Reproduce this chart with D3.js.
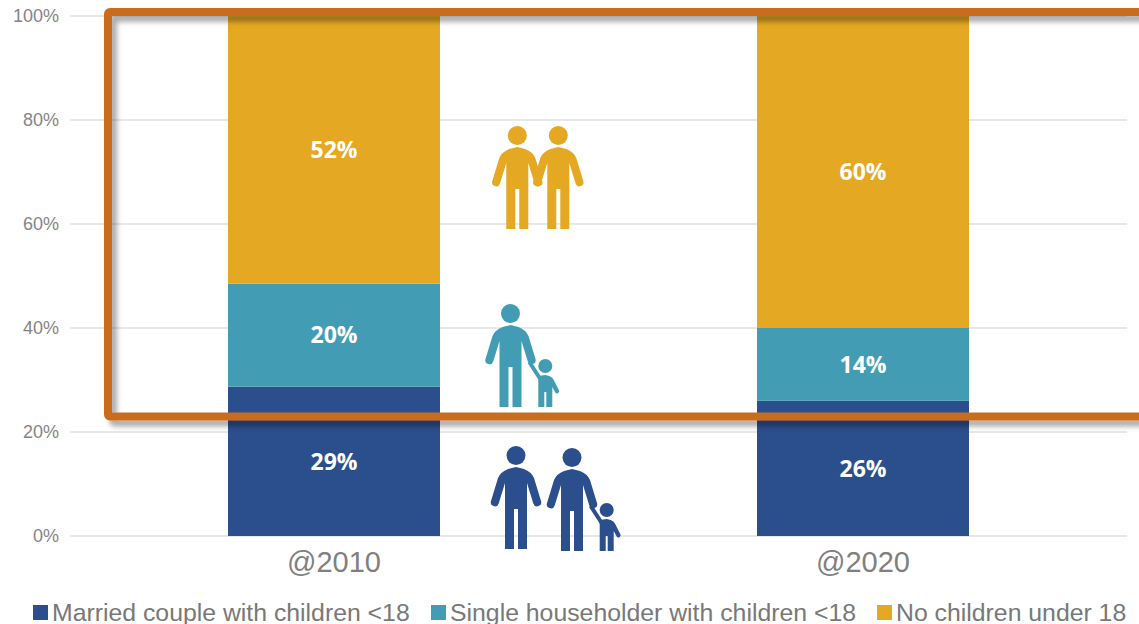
<!DOCTYPE html>
<html>
<head>
<meta charset="utf-8">
<script src="https://cdn.jsdelivr.net/npm/d3@7"></script>
<style>
  html, body { margin: 0; padding: 0; background: #fff; }
  svg { display: block; }
  text { font-family: "Liberation Sans", Arial, sans-serif; }
</style>
</head>
<body>
<div id="chart"></div>
<script>
// Household composition by census year
const years = ["@2010", "@2020"];
const seriesNames = ["Married couple with children <18", "Single householder with children <18", "No children under 18"];
const married = [29, 26];
const single = [20, 14];
const noChildren = [52, 60];
const seriesValues = [married, single, noChildren];
const seriesColors = ["#2b4f8c", "#429db4", "#e5a823"];
const yTicks = [0, 0.2, 0.4, 0.6, 0.8, 1];

const W = 1139, H = 624;
const svg = d3.select("#chart").append("svg").attr("width", W).attr("height", H);

const y = d3.scaleLinear().domain([0, 1]).range([536, 16]);

// Gridlines and percent axis
const yAxis = d3.axisLeft(y).tickValues(yTicks).tickFormat(d3.format(".0%")).tickSize(0).tickPadding(0);
const axisG = svg.append("g").attr("transform", "translate(59,0)").call(yAxis);
axisG.select(".domain").remove();
axisG.selectAll("text").attr("fill", "#858585").attr("font-size", 18).attr("text-anchor", "end")
  .style("font-family", "'Liberation Sans', Arial, sans-serif");

svg.append("g").selectAll("line").data(yTicks).join("line")
  .attr("x1", 70).attr("x2", 1127)
  .attr("y1", d => y(d)).attr("y2", d => y(d))
  .attr("stroke", "#e8e8e8").attr("stroke-width", 2);

// Stacked bars, normalised so each year fills the full height
const rows = years.map((yr, i) => {
  const r = { year: yr };
  seriesNames.forEach((n, s) => { r[n] = seriesValues[s][i]; });
  return r;
});
const stack = d3.stack().keys(seriesNames).offset(d3.stackOffsetExpand)(rows);

const barX = d3.scalePoint().domain(years).range([334, 863]);
const barWidth = 212;

const layers = svg.append("g").selectAll("g").data(stack).join("g")
  .attr("fill", (d, i) => seriesColors[i]);

layers.selectAll("rect").data(d => d).join("rect")
  .attr("x", d => barX(d.data.year) - barWidth / 2)
  .attr("width", barWidth)
  .attr("y", d => y(d[1]))
  .attr("height", d => y(d[0]) - y(d[1]));

layers.selectAll("text").data(d => d.map(v => ({ v, key: d.key }))).join("text")
  .attr("x", d => barX(d.v.data.year))
  .attr("y", d => (y(d.v[0]) + y(d.v[1])) / 2)
  .attr("dy", "0.36em")
  .attr("text-anchor", "middle")
  .attr("fill", "#fff")
  .attr("font-weight", "bold")
  .attr("font-size", 23)
  .style("font-family", "'Open Sans', sans-serif")
  .text(d => d.v.data[d.key] + "%");

// Category labels
svg.append("g").selectAll("text").data(years).join("text")
  .attr("x", d => barX(d)).attr("y", 572)
  .attr("text-anchor", "middle")
  .attr("fill", "#808080")
  .attr("font-size", 29)
  .text(d => d);

// Legend
const legendSwatchX = [33, 431, 877];
const legend = svg.append("g").selectAll("g").data(seriesNames).join("g")
  .attr("transform", (d, i) => `translate(${legendSwatchX[i]},0)`);
legend.append("rect").attr("y", 605).attr("width", 15).attr("height", 15)
  .attr("fill", (d, i) => seriesColors[i]);
legend.append("text").attr("x", 19).attr("y", 620.5)
  .attr("fill", "#787878").attr("font-size", 24.8)
  .text(d => d);

// Pictograms: adult and child figures, origin at the feet
const adultBody = "M0,-82 L8,-80 Q15.5,-77 18,-71 L25,-48 A4,4 0 0 1 17.3,-45.5 L11,-66 L11,0 L2,0 L2,-40 L-2,-40 L-2,0 L-11,0 L-11,-66 L-17.3,-45.5 A4,4 0 0 1 -25,-48 L-18,-71 Q-15.5,-77 -8,-80 Z";
const childBody = "M0,-32 L4,-31 Q7,-30 8.5,-27 L13.5,-17 A2,2 0 0 1 10,-14.5 L7,-20 L7,0 L1,0 L1,-15 L-1,-15 L-1,0 L-7,0 L-7,-31 Z";
const icons = svg.append("g");

function adult(cx, footY, colour) {
  const g = icons.append("g").attr("transform", `translate(${cx},${footY})`).attr("fill", colour);
  g.append("circle").attr("cy", -93.5).attr("r", 9.5);
  g.append("path").attr("d", adultBody);
}
function child(cx, footY, colour) {
  const g = icons.append("g").attr("transform", `translate(${cx},${footY})`).attr("fill", colour);
  g.append("circle").attr("cy", -41).attr("r", 7);
  g.append("path").attr("d", childBody);
  // Raised arm reaching up to the adult's hand
  g.append("path").attr("d", "M-5,-28 L-16,-45").attr("stroke", colour).attr("stroke-width", 4).attr("fill", "none");
}
adult(517.3, 229, seriesColors[2]);
adult(558.3, 229, seriesColors[2]);
adult(510.5, 407, seriesColors[1]);
child(545.3, 407, seriesColors[1]);
adult(516, 549, seriesColors[0]);
adult(572, 551, seriesColors[0]);
child(606.7, 551, seriesColors[0]);

// Highlight frame running off the right edge
const defs = svg.append("defs");
const f = defs.append("filter").attr("id", "frameShadow")
  .attr("x", "-5%").attr("y", "-5%").attr("width", "110%").attr("height", "115%");
f.append("feDropShadow").attr("dx", 5).attr("dy", 6).attr("stdDeviation", 2.5)
  .attr("flood-color", "#000").attr("flood-opacity", 0.32);

svg.append("rect")
  .attr("x", 108).attr("y", 12).attr("width", 1100).attr("height", 404.5).attr("rx", 2)
  .attr("fill", "none").attr("stroke", "#cb6c1e").attr("stroke-width", 8)
  .attr("filter", "url(#frameShadow)");
</script>
</body>
</html>
